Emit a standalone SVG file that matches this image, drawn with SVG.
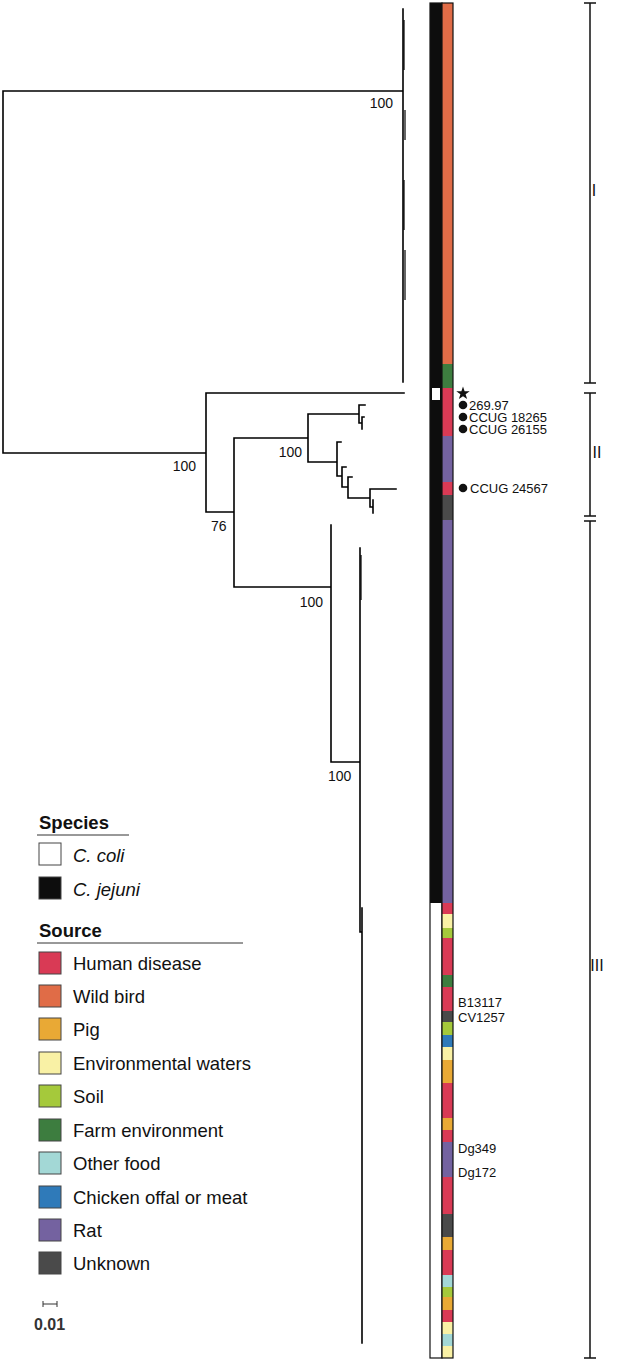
<svg xmlns="http://www.w3.org/2000/svg" width="634" height="1362" viewBox="0 0 634 1362">
<style>
.t{stroke:#000;stroke-width:1.6;fill:none;stroke-linecap:square}
.tt{stroke:#000;stroke-width:1.2;fill:none}
.bs{font-family:"Liberation Sans",Arial,sans-serif;font-size:14px;fill:#111}
.lab{font-family:"Liberation Sans",Arial,sans-serif;font-size:13px;fill:#111}
.lg{font-family:"Liberation Sans",Arial,sans-serif;font-size:18.5px;fill:#111}
.lh{font-family:"Liberation Sans",Arial,sans-serif;font-size:18.5px;font-weight:bold;fill:#111}
.cl{font-family:"Liberation Sans",Arial,sans-serif;font-size:16px;fill:#111}
.br{stroke:#111;stroke-width:1.5;fill:none}
.hd{fill:#d93a55}.wb{fill:#e06c47}.pg{fill:#e9a935}.ew{fill:#f9f1a5}.so{fill:#a5c93b}.fe{fill:#3d7d3f}.of{fill:#a3d8d6}.ch{fill:#2f7ab9}.ra{fill:#7462a0}.un{fill:#4a4a4a}
.box{stroke:#444;stroke-width:1}
</style>
<rect width="634" height="1362" fill="#fff"/>
<g id="tree">
<path class="t" d="M3,91V453M3,91H403M403,9V382M3,453H206M206,393V512M206,393H404M206,512H234M234,438V587M234,438H308M234,587H331M308,414V462M308,414H359M359,405V423M359,405H365M359,423H362M362,417V429M362,417H364M308,462H337M337,442V476M337,442H341M337,476H342M342,467V487M342,467H346M342,487H348M348,477V498M348,477H352M348,498H370M370,489V507M370,489H396M370,507H373M373,500V513M331,525V762M331,762H360M360,548V932M360,932H362M362,908V1343"/>
<path class="tt" d="M404,20V70M405,110V140M404,180V230M405,250V300M361,555V600"/>
</g>
<g id="support-labels" class="bs">
<text x="393" y="108" text-anchor="end">100</text>
<text x="196" y="471" text-anchor="end">100</text>
<text x="211" y="531">76</text>
<text x="302" y="457" text-anchor="end">100</text>
<text x="323" y="607" text-anchor="end">100</text>
<text x="328" y="781">100</text>
</g>
<g id="species-strip">
<rect x="430" y="3" width="12" height="900" fill="#0d0d0d"/>
<rect x="430" y="903" width="12" height="455" fill="#fff"/>
<rect x="432" y="388" width="8" height="12" fill="#fff"/>
<rect x="430" y="3" width="12" height="1355" fill="none" stroke="#111" stroke-width="1.2"/>
</g>
<g id="source-strip">
<rect class="wb" x="442" y="3" width="11" height="361"/>
<rect class="fe" x="442" y="364" width="11" height="24"/>
<rect class="hd" x="442" y="388" width="11" height="48"/>
<rect class="ra" x="442" y="436" width="11" height="46"/>
<rect class="hd" x="442" y="482" width="11" height="13"/>
<rect class="un" x="442" y="495" width="11" height="25"/>
<rect class="ra" x="442" y="520" width="11" height="383"/>
<rect class="hd" x="442" y="903" width="11" height="11"/>
<rect class="ew" x="442" y="914" width="11" height="14"/>
<rect class="so" x="442" y="928" width="11" height="10"/>
<rect class="hd" x="442" y="938" width="11" height="37"/>
<rect class="fe" x="442" y="975" width="11" height="12"/>
<rect class="hd" x="442" y="987" width="11" height="24"/>
<rect class="un" x="442" y="1011" width="11" height="11"/>
<rect class="so" x="442" y="1022" width="11" height="13"/>
<rect class="ch" x="442" y="1035" width="11" height="12"/>
<rect class="ew" x="442" y="1047" width="11" height="13"/>
<rect class="pg" x="442" y="1060" width="11" height="23"/>
<rect class="hd" x="442" y="1083" width="11" height="35"/>
<rect class="pg" x="442" y="1118" width="11" height="12"/>
<rect class="hd" x="442" y="1130" width="11" height="12"/>
<rect class="ra" x="442" y="1142" width="11" height="35"/>
<rect class="hd" x="442" y="1177" width="11" height="37"/>
<rect class="un" x="442" y="1214" width="11" height="23"/>
<rect class="pg" x="442" y="1237" width="11" height="13"/>
<rect class="hd" x="442" y="1250" width="11" height="25"/>
<rect class="of" x="442" y="1275" width="11" height="12"/>
<rect class="so" x="442" y="1287" width="11" height="10"/>
<rect class="pg" x="442" y="1297" width="11" height="13"/>
<rect class="hd" x="442" y="1310" width="11" height="12"/>
<rect class="ew" x="442" y="1322" width="11" height="12"/>
<rect class="of" x="442" y="1334" width="11" height="12"/>
<rect class="ew" x="442" y="1346" width="11" height="12"/>
<rect x="442" y="3" width="11" height="1355" fill="none" stroke="#111" stroke-width="1.2"/>
</g>
<g id="strain-labels">
<polygon points="463,386.5 464.6,391.3 469.7,391.3 465.6,394.3 467.1,399.1 463,396.2 458.9,399.1 460.4,394.3 456.3,391.3 461.4,391.3" fill="#111"/>
<circle cx="463" cy="405" r="4.3" fill="#111"/><text class="lab" x="469" y="409.5">269.97</text>
<circle cx="463" cy="417" r="4.3" fill="#111"/><text class="lab" x="469" y="421.5">CCUG 18265</text>
<circle cx="463" cy="429" r="4.3" fill="#111"/><text class="lab" x="469" y="433.5">CCUG 26155</text>
<circle cx="463" cy="488" r="4.3" fill="#111"/><text class="lab" x="470" y="492.5">CCUG 24567</text>
<text class="lab" x="458" y="1007">B13117</text>
<text class="lab" x="458" y="1022">CV1257</text>
<text class="lab" x="458" y="1153">Dg349</text>
<text class="lab" x="458" y="1177">Dg172</text>
</g>
<g id="clade-brackets">
<path class="br" d="M590,3V383M584,3H596M584,383H596"/>
<path class="br" d="M590,393V516M584,393H596M584,516H596"/>
<path class="br" d="M590,521V1358M584,521H596M584,1358H596"/>
<text class="cl" x="594" y="196" text-anchor="middle">I</text>
<text class="cl" x="597" y="458" text-anchor="middle">II</text>
<text class="cl" x="597" y="971" text-anchor="middle">III</text>
</g>
<g id="legend-species">
<text class="lh" x="39" y="829">Species</text>
<line x1="37" y1="835" x2="129" y2="835" stroke="#333" stroke-width="1"/>
<rect class="box" x="39" y="843" width="22" height="22" fill="#fff"/>
<text class="lg" x="73" y="862" font-style="italic">C. coli</text>
<rect class="box" x="39" y="877" width="22" height="22" fill="#0d0d0d"/>
<text class="lg" x="73" y="896" font-style="italic">C. jejuni</text>
</g>
<g id="legend-source">
<text class="lh" x="39" y="937">Source</text>
<line x1="37" y1="943" x2="243" y2="943" stroke="#333" stroke-width="1"/>
<rect class="box hd" x="39" y="952" width="22" height="22"/><text class="lg" x="73" y="970">Human disease</text>
<rect class="box wb" x="39" y="985" width="22" height="22"/><text class="lg" x="73" y="1003">Wild bird</text>
<rect class="box pg" x="39" y="1018" width="22" height="22"/><text class="lg" x="73" y="1036">Pig</text>
<rect class="box ew" x="39" y="1052" width="22" height="22"/><text class="lg" x="73" y="1070">Environmental waters</text>
<rect class="box so" x="39" y="1085" width="22" height="22"/><text class="lg" x="73" y="1103">Soil</text>
<rect class="box fe" x="39" y="1119" width="22" height="22"/><text class="lg" x="73" y="1137">Farm environment</text>
<rect class="box of" x="39" y="1152" width="22" height="22"/><text class="lg" x="73" y="1170">Other food</text>
<rect class="box ch" x="39" y="1186" width="22" height="22"/><text class="lg" x="73" y="1204">Chicken offal or meat</text>
<rect class="box ra" x="39" y="1219" width="22" height="22"/><text class="lg" x="73" y="1237">Rat</text>
<rect class="box un" x="39" y="1252" width="22" height="22"/><text class="lg" x="73" y="1270">Unknown</text>
</g>
<g id="scale-bar">
<path d="M43,1304H57M43,1301V1307M57,1301V1307" stroke="#333" stroke-width="1" fill="none"/>
<text x="34" y="1330" font-family="Liberation Sans, Arial, sans-serif" font-size="16" font-weight="bold" fill="#333">0.01</text>
</g>
</svg>
